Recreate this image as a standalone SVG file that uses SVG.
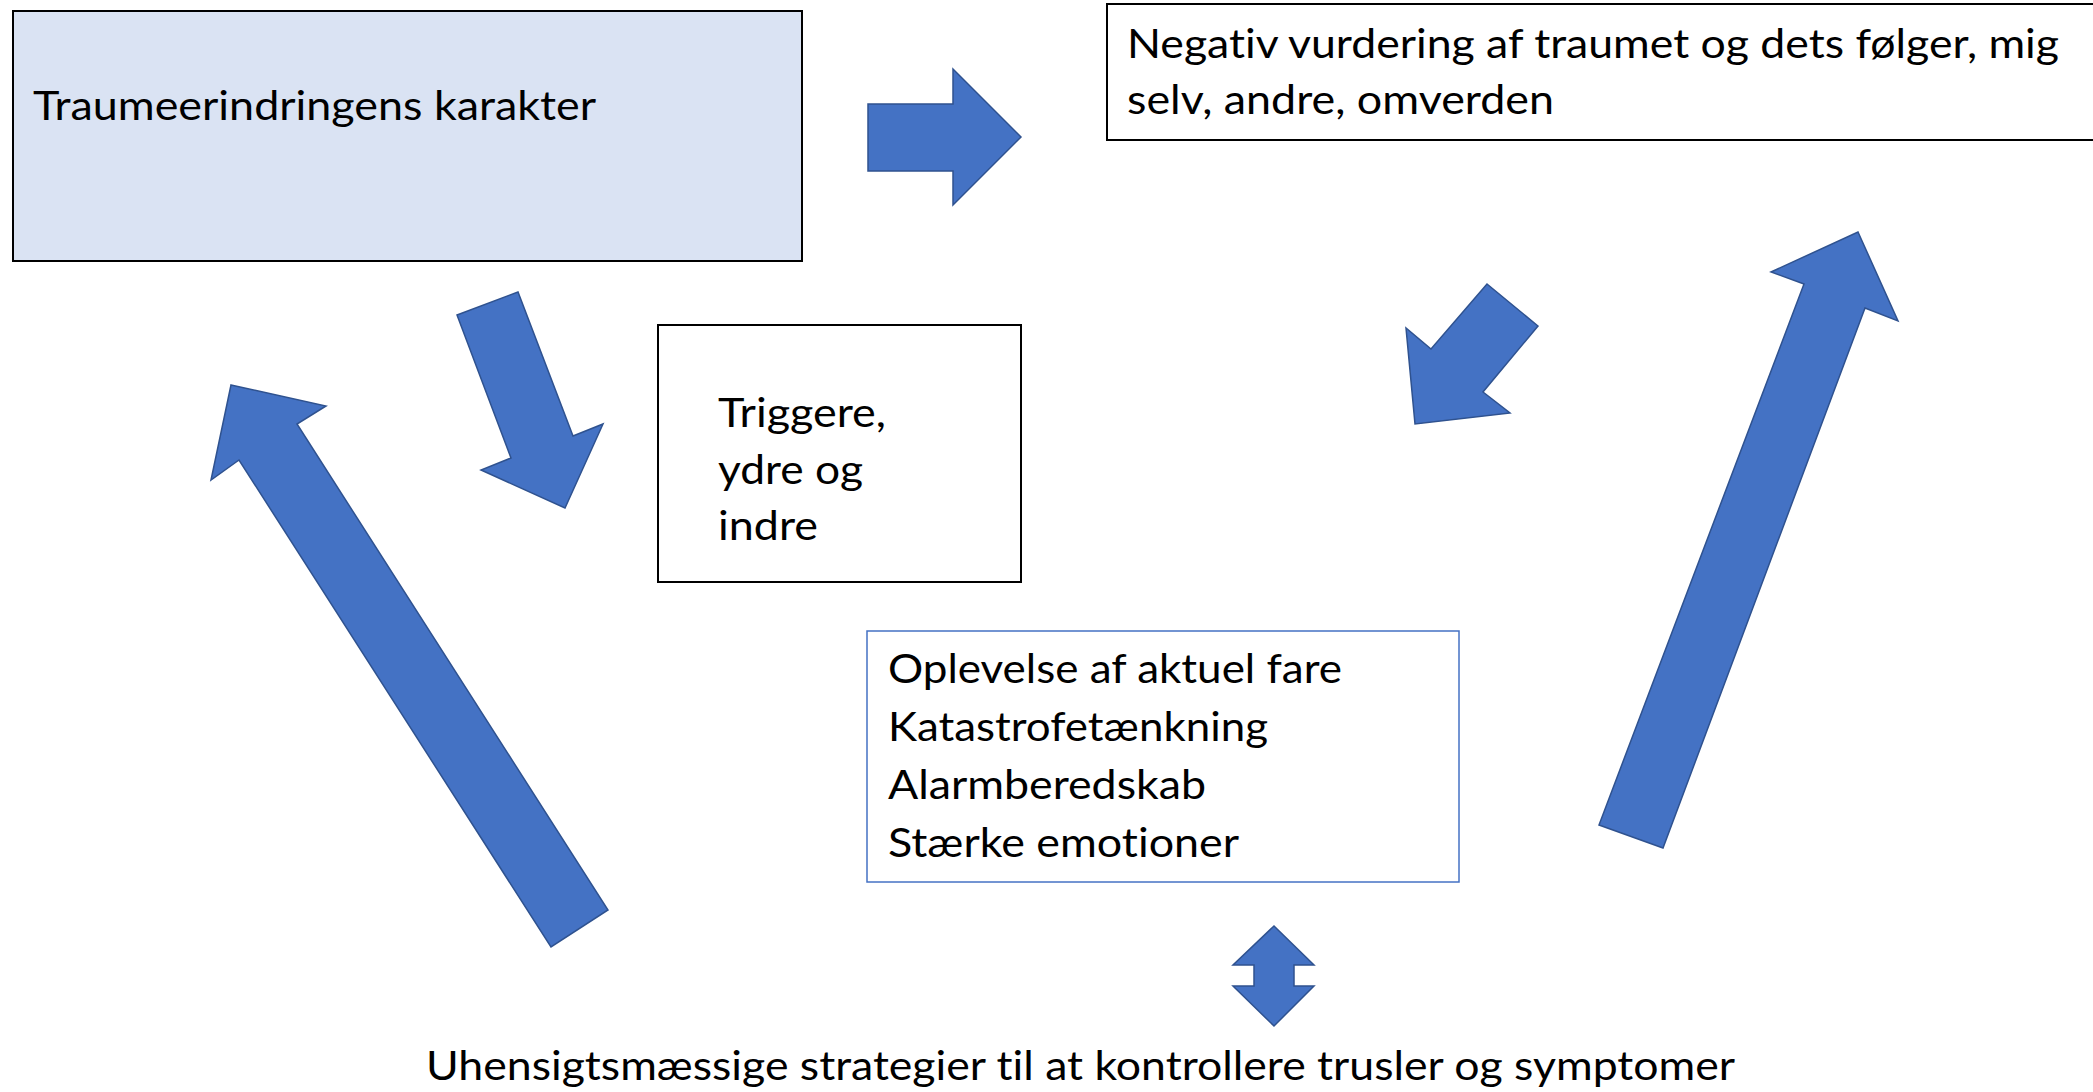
<svg xmlns="http://www.w3.org/2000/svg" width="2093" height="1092" viewBox="0 0 2093 1092">
<style>
.t{font-family:Lato,"Open Sans","Liberation Sans",sans-serif;font-size:40px;fill:#000;font-variant-ligatures:none;font-feature-settings:"liga" 0,"dlig" 0}
.box{fill:#fff;stroke:#000;stroke-width:2}
.arr{fill:#4472C4;stroke:#2F528F;stroke-width:1.5;stroke-linejoin:miter}
</style>
<rect width="2093" height="1092" fill="#fff"/>
<g id="node-traume">
<rect x="13" y="11" width="789" height="250" fill="#DAE3F3" stroke="#000" stroke-width="2"/>
<text class="t" x="33" y="120" textLength="563" lengthAdjust="spacingAndGlyphs">Traumeerindringens karakter</text>
</g>
<g id="node-negativ">
<rect class="box" x="1107" y="4" width="1000" height="136"/>
<text class="t" x="1127" y="58" textLength="932" lengthAdjust="spacingAndGlyphs">Negativ vurdering af traumet og dets følger, mig</text>
<text class="t" x="1127" y="114" textLength="427" lengthAdjust="spacingAndGlyphs">selv, andre, omverden</text>
</g>
<g id="node-triggere">
<rect class="box" x="658" y="325" width="363" height="257"/>
<text class="t" x="718" y="427" textLength="168" lengthAdjust="spacingAndGlyphs">Triggere,</text>
<text class="t" x="718" y="484" textLength="145" lengthAdjust="spacingAndGlyphs">ydre og</text>
<text class="t" x="718" y="540" textLength="100" lengthAdjust="spacingAndGlyphs">indre</text>
</g>
<g id="node-fare">
<rect x="867" y="631" width="592" height="251" fill="#fff" stroke="#4472C4" stroke-width="1.5"/>
<text class="t" x="888" y="683" textLength="454" lengthAdjust="spacingAndGlyphs">Oplevelse af aktuel fare</text>
<text class="t" x="888" y="741" textLength="380" lengthAdjust="spacingAndGlyphs">Katastrofetænkning</text>
<text class="t" x="888" y="799" textLength="318" lengthAdjust="spacingAndGlyphs">Alarmberedskab</text>
<text class="t" x="888" y="857" textLength="351" lengthAdjust="spacingAndGlyphs">Stærke emotioner</text>
</g>
<g id="node-strategier">
<text class="t" x="426" y="1080" textLength="1309" lengthAdjust="spacingAndGlyphs">Uhensigtsmæssige strategier til at kontrollere trusler og symptomer</text>
</g>
<g id="connectors">
<polygon class="arr" points="868,104 953,104 953,69 1021,137 953,205 953,171 868,171"/>
<polygon class="arr" points="457,315 518,292 573,436 603,424 565,508 481,470 511,458"/>
<polygon class="arr" points="231,385 326,406 297,424 608,910 551,947 239,460 211,480"/>
<polygon class="arr" points="1487,284 1538,326 1483,392 1510,413 1415,424 1406,328 1431,349"/>
<polygon class="arr" points="1858,232 1898,321 1865,308 1663,848 1599,825 1804,284 1771,272"/>
<polygon class="arr" points="1274,926 1314,965 1294,965 1294,986 1314,986 1274,1026 1233,986 1254,986 1254,965 1233,965"/>
</g>
</svg>
